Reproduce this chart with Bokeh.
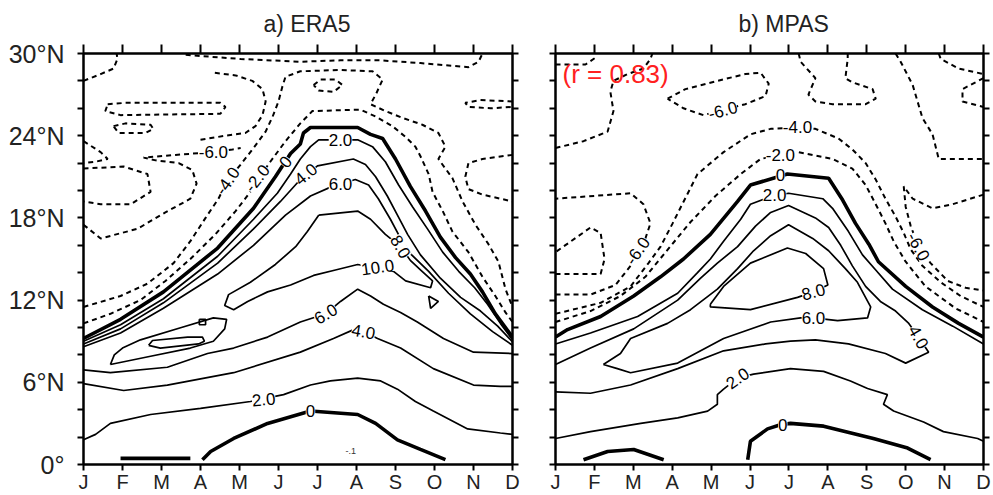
from bokeh.plotting import figure
from bokeh.models import Range1d, LinearAxis, FixedTicker, Label, ColumnDataSource, CustomJSTickFormatter, Title
from bokeh.layouts import row
from bokeh.embed import file_html
from bokeh.resources import INLINE
from bokeh.core.properties import value

FONT = "Liberation Sans"

# ---------------- axes data ----------------
month_ticks = list(range(12))
month_labels = ["J", "F", "M", "A", "M", "J", "J", "A", "S", "O", "N", "D"]
lat_major = [0, 6, 12, 18, 24, 30]
lat_labels = ["0°", "6°N", "12°N", "18°N", "24°N", "30°N"]
lat_minor = [2, 4, 8, 10, 14, 16, 20, 22, 26, 28]

# ---------------- a) ERA5 contour lines (month, latitude) ----------------
e_z0_m = [0, 0.95, 2.05, 3.44, 4.36, 4.92, 5.31, 5.56, 5.64, 5.82, 7.03, 7.36, 7.67, 8.0, 8.38, 8.77, 9.15, 9.54, 9.92, 10.23, 10.56, 11.0]
e_z0_lat = [9.2, 10.6, 12.6, 15.8, 18.7, 21.0, 22.7, 23.4, 24.2, 24.6, 24.6, 24.1, 23.8, 22.3, 20.3, 18.5, 16.6, 15.1, 13.9, 12.6, 11.0, 9.3]
e_z0b1_m = [0.95, 2.74]
e_z0b1_lat = [0.45, 0.45]
e_z0b2_m = [3.05, 3.26, 3.85, 4.72, 5.82, 7.03, 7.49, 8.05, 8.64, 9.28]
e_z0b2_lat = [0.35, 0.95, 1.9, 3.0, 3.9, 3.65, 3.0, 1.8, 1.1, 0.35]
e_p2u_m = [0, 0.95, 2.05, 3.44, 4.36, 4.97, 5.31, 5.56, 5.82, 6.03, 7.03, 7.41, 7.74, 8.08, 8.44, 8.82, 9.21, 9.62, 10.03, 10.36, 10.69, 11.0]
e_p2u_lat = [9.0, 10.2, 12.1, 15.2, 17.9, 19.8, 21.2, 22.3, 23.2, 23.7, 23.7, 23.2, 22.1, 20.4, 18.8, 17.2, 15.5, 14.1, 12.9, 11.7, 10.3, 9.1]
e_p4u_m = [0, 0.95, 2.05, 3.44, 4.36, 5.05, 5.56, 6.0, 6.92, 7.23, 7.49, 7.79, 8.05, 8.31, 8.64, 9.15, 9.67, 10.18, 10.62, 11.0]
e_p4u_lat = [8.8, 9.9, 11.8, 14.7, 17.2, 19.2, 20.8, 21.8, 22.3, 21.9, 21.0, 19.6, 18.2, 16.8, 15.3, 13.6, 12.2, 11.2, 10.1, 8.95]
e_p6u_m = [0, 0.95, 2.05, 3.44, 4.36, 5.18, 5.82, 6.38, 6.97, 7.31, 7.56, 7.87, 8.13, 8.38, 8.85, 9.36, 9.92, 10.49, 11.0]
e_p6u_lat = [8.6, 9.6, 11.4, 13.9, 16.0, 18.2, 19.6, 20.3, 20.8, 20.4, 19.4, 17.9, 16.5, 15.4, 14.1, 12.5, 11.0, 9.7, 8.7]
e_p10_m = [6.03, 7.03, 7.36, 7.74, 8.13, 8.38, 8.64, 8.95, 8.90, 8.26, 7.95, 7.03, 6.46, 5.90, 5.31, 4.72, 4.21, 3.85, 3.62, 3.72, 4.28, 4.92, 5.44, 5.74, 6.03]
e_p10_lat = [18.2, 18.5, 17.9, 16.8, 15.9, 14.9, 14.2, 13.4, 12.9, 13.4, 14.1, 14.6, 14.2, 13.8, 13.1, 12.6, 11.9, 11.3, 11.6, 12.4, 13.3, 14.6, 15.9, 17.0, 18.2]
e_p6l_m = [0, 0.69, 2.15, 3.18, 3.85, 4.72, 5.56, 6.21, 6.59, 7.03, 7.36, 7.69, 8.13, 8.56, 9.23, 10.0, 11.0]
e_p6l_lat = [6.9, 6.7, 7.1, 8.1, 8.5, 9.3, 10.4, 11.0, 11.9, 12.8, 12.3, 11.7, 11.1, 10.4, 9.2, 8.2, 8.1]
e_p4l_m = [0, 1.03, 2.15, 3.85, 5.56, 6.41, 6.97, 7.18, 7.54, 8.13, 8.97, 10.0, 10.69, 11.0]
e_p4l_lat = [5.9, 5.4, 5.8, 6.7, 8.2, 9.2, 9.9, 9.7, 9.2, 8.5, 7.0, 5.8, 5.7, 5.7]
e_p8w_m = [0.69, 0.79, 1.0, 1.46, 2.51, 3.33, 3.67, 3.62, 3.33, 2.74, 1.72, 0.69]
e_p8w_lat = [7.3, 8.0, 8.5, 9.1, 10.0, 10.7, 10.6, 9.9, 9.0, 8.5, 7.9, 7.3]
e_isl_m = [1.67, 1.77, 2.67, 3.05, 3.10, 2.95, 1.97, 1.67]
e_isl_lat = [8.7, 9.05, 9.3, 9.3, 9.0, 8.8, 8.5, 8.7]
e_tri_m = [8.85, 9.10, 8.90, 8.85]
e_tri_lat = [12.3, 11.9, 11.4, 12.3]
e_sq_m = [2.97, 3.13, 3.13, 2.97, 2.97]
e_sq_lat = [10.6, 10.6, 10.2, 10.2, 10.6]
e_p2l_m = [0, 0.31, 0.69, 1.72, 3.0, 4.28, 5.13, 5.82, 6.33, 7.03, 7.62, 8.05, 8.51, 8.97, 9.85, 10.69, 11.0]
e_p2l_lat = [1.8, 2.2, 3.0, 3.65, 4.1, 4.6, 5.1, 5.8, 6.1, 6.3, 6.1, 5.5, 4.6, 3.9, 2.6, 2.3, 2.2]
# negative (dashed)
e_n2_m = [0, 0.69, 1.46, 2.10, 2.74, 3.38, 3.90, 4.28, 4.49, 4.79, 5.18, 5.56, 5.87, 7.10, 7.49, 7.92, 8.26, 8.51, 8.64, 8.85, 8.95, 9.21, 9.46, 9.87, 10.23, 10.56, 10.82, 11.0]
e_n2_lat = [10.3, 11.0, 12.0, 13.4, 15.0, 16.8, 18.5, 19.9, 20.9, 22.1, 23.6, 24.9, 25.8, 25.9, 25.4, 24.7, 23.9, 23.2, 22.5, 21.2, 19.9, 18.5, 17.0, 15.5, 13.7, 12.3, 11.1, 10.4]
e_n4_m = [0, 0.95, 1.64, 2.31, 2.74, 3.13, 3.46, 3.69, 4.03, 4.36, 4.67, 4.85, 5.0, 5.10, 5.18, 5.56, 6.59, 7.41, 7.67, 7.51, 7.36, 7.74, 8.18, 8.69, 9.10, 9.28, 9.10, 9.46, 9.72, 10.05, 10.38, 10.64, 10.82, 11.0]
e_n4_lat = [11.5, 12.3, 13.2, 14.7, 16.3, 18.0, 19.4, 20.7, 21.9, 23.1, 24.3, 25.4, 26.5, 27.6, 28.3, 28.7, 28.8, 28.7, 28.1, 27.1, 26.3, 25.8, 25.3, 24.8, 24.2, 23.2, 22.3, 20.9, 19.2, 17.5, 16.1, 14.8, 12.8, 11.5]
e_top_m = [2.62, 4.03, 5.56, 6.59, 7.62, 8.64, 9.87, 10.13, 10.23]
e_top_lat = [29.9, 29.6, 29.4, 29.5, 29.5, 29.3, 29.0, 29.4, 30.0]
e_sl_m = [5.90, 6.08, 6.46, 6.64, 6.41, 6.03, 5.90]
e_sl_lat = [27.7, 28.1, 28.1, 27.7, 27.2, 27.3, 27.7]
e_rl_m = [11.0, 10.18, 9.79, 9.87, 10.44, 11.0]
e_rl_lat = [26.5, 26.6, 26.4, 26.1, 26.0, 26.1]
e_ru_m = [11.0, 10.23, 9.87, 9.79, 9.87, 10.23, 11.0]
e_ru_lat = [22.6, 22.3, 22.0, 21.0, 20.1, 19.7, 19.2]
e_a_m = [0, 0.44, 0.77, 0.87, 0.85]
e_a_lat = [28.0, 28.5, 28.9, 29.6, 30.0]
e_b_m = [0.62, 1.08, 3.51, 3.64, 3.51, 0.95, 0.56, 0.62]
e_b_lat = [26.3, 26.4, 26.4, 26.1, 25.6, 25.5, 25.8, 26.3]
e_c_m = [0.77, 1.08, 1.72, 1.79, 1.59, 0.90, 0.77]
e_c_lat = [24.7, 24.9, 24.8, 24.5, 24.2, 24.2, 24.7]
e_e_m = [3.0, 3.64, 4.15, 4.41, 4.59, 4.67, 4.59, 4.33, 3.90, 3.33]
e_e_lat = [23.7, 24.0, 24.2, 24.7, 25.5, 26.5, 27.4, 28.0, 28.4, 28.6]
e_hd_m = [0, 0.44, 1.38, 2.10, 2.74, 2.90, 2.79, 2.44, 1.85, 1.54, 2.36, 3.33, 3.82, 4.03]
e_hd_lat = [17.5, 16.5, 17.2, 18.4, 19.4, 20.5, 21.5, 22.0, 22.2, 22.4, 22.6, 22.8, 23.0, 23.1]
e_f_m = [0, 0.44, 0.62, 0.31, 0]
e_f_lat = [23.6, 22.8, 22.3, 22.1, 22.0]
e_g_m = [0, 1.03, 1.64, 1.72, 1.21, 0.44, 0]
e_g_lat = [21.6, 21.75, 21.2, 19.9, 19.0, 19.0, 19.2]

era5_label_text = ["0", "-2.0", "-4.0", "-6.0", "2.0", "4.0", "6.0", "8.0", "10.0", "6.0", "4.0", "2.0", "0"]
era5_label_m = [5.18, 4.45, 3.69, 3.33, 6.59, 5.70, 6.59, 8.13, 7.54, 6.21, 7.18, 4.62, 5.82]
era5_label_lat = [22.1, 20.9, 20.7, 22.8, 23.7, 21.2, 20.5, 15.9, 14.4, 11.0, 9.7, 4.75, 3.9]
era5_label_angle = [52, 52, 55, 0, 0, 40, 0, -60, 8, 30, -10, 5, 0]
era5_tiny_text = ["-.1"]
era5_tiny_m = [6.85]
era5_tiny_lat = [1.0]

# ---------------- b) MPAS contour lines (month, latitude) ----------------
m_z0_m = [0, 0.31, 1.16, 2.01, 2.70, 3.29, 3.98, 4.68, 5.01, 5.96, 7.02, 7.38, 7.71, 8.05, 8.30, 9.0, 9.69, 10.36, 11.0]
m_z0_lat = [9.3, 9.85, 10.8, 12.3, 13.7, 15.0, 16.8, 19.2, 20.4, 21.2, 20.9, 19.3, 17.6, 16.1, 14.8, 13.0, 11.5, 10.3, 9.3]
m_z0b1_m = [0.72, 1.34, 2.01, 2.78]
m_z0b1_lat = [0.35, 0.95, 1.1, 0.35]
m_z0b2_m = [4.94, 5.01, 5.45, 5.78, 6.04, 6.89, 8.17, 9.05, 9.64]
m_z0b2_lat = [0.35, 1.7, 2.6, 2.9, 3.0, 2.8, 1.9, 1.2, 0.35]
m_p2u_m = [0, 0.90, 2.11, 3.14, 3.65, 3.98, 4.32, 4.76, 5.01, 5.58, 5.99, 6.87, 7.12, 7.53, 7.89, 8.23, 8.66, 9.43, 10.21, 11.0]
m_p2u_lat = [8.8, 9.6, 10.8, 12.5, 14.0, 15.0, 16.3, 17.9, 19.0, 19.6, 19.8, 19.4, 18.7, 17.0, 15.3, 14.2, 12.8, 11.3, 10.1, 8.8]
m_p4_m = [0, 0.90, 2.01, 3.14, 3.73, 4.16, 4.68, 5.14, 5.53, 5.99, 6.68, 7.02, 7.33, 7.63, 7.97, 8.35, 8.74, 9.08, 9.33, 9.59, 9.0, 8.48, 7.53, 6.68, 6.04, 5.40, 4.32, 3.14, 1.93, 0.90, 0]
m_p4_lat = [7.3, 8.5, 9.9, 12.0, 13.6, 14.7, 15.9, 17.4, 18.4, 18.9, 18.0, 17.3, 16.0, 14.5, 13.0, 11.9, 11.2, 10.3, 9.3, 8.2, 7.4, 8.1, 8.8, 9.1, 9.0, 8.8, 8.3, 7.0, 5.8, 5.2, 5.3]
m_p6_m = [1.23, 1.67, 1.93, 2.88, 3.47, 4.16, 4.68, 5.09, 5.53, 5.99, 6.61, 7.02, 7.45, 7.76, 8.10, 8.02, 7.25, 6.63, 6.30, 5.53, 4.32, 3.14, 1.93, 1.59, 1.23]
m_p6_lat = [7.3, 8.1, 9.2, 10.3, 11.3, 12.8, 14.3, 15.6, 16.7, 17.5, 16.5, 15.6, 14.3, 13.3, 11.5, 10.7, 10.5, 10.7, 10.7, 10.4, 9.2, 7.4, 6.7, 7.0, 7.3]
m_p8_m = [3.98, 4.32, 5.01, 5.96, 6.43, 6.89, 7.00, 6.63, 6.22, 5.01, 3.98, 3.98]
m_p8_lat = [11.7, 13.0, 14.7, 15.8, 15.4, 14.3, 13.1, 12.6, 12.2, 11.3, 11.5, 11.7]
m_p2l_m = [0, 0.90, 2.19, 3.14, 3.91, 4.16, 4.16, 4.32, 4.68, 5.09, 6.04, 6.89, 7.58, 8.02, 8.53, 8.43, 8.69, 9.46, 9.97, 10.85, 11.0]
m_p2l_lat = [1.9, 2.4, 3.0, 3.4, 3.9, 4.4, 5.1, 5.5, 6.3, 6.6, 7.0, 6.8, 6.1, 5.55, 5.1, 4.4, 3.9, 3.1, 2.4, 1.9, 1.7]
# negative (dashed)
m_n2_m = [0, 0.90, 1.67, 2.31, 2.83, 3.47, 4.11, 4.76, 5.27, 5.78, 6.24, 7.12, 7.63, 7.97, 8.23, 8.48, 8.69, 9.0, 9.51, 10.28, 11.0]
m_n2_lat = [10.4, 11.2, 12.3, 13.7, 15.5, 17.7, 19.6, 21.2, 22.3, 22.6, 22.8, 22.3, 21.6, 20.4, 19.0, 17.6, 16.3, 14.8, 13.0, 11.4, 10.4]
m_n4_m = [0, 1.16, 1.93, 2.39, 2.70, 3.01, 3.65, 4.32, 5.01, 5.53, 6.22, 6.68, 7.27, 7.63, 7.97, 8.23, 8.48, 8.74, 8.95, 9.13, 9.43, 9.90, 10.41, 11.0]
m_n4_lat = [11.0, 11.8, 13.0, 14.7, 15.9, 17.6, 21.2, 22.8, 24.1, 24.5, 24.6, 24.5, 23.8, 23.0, 22.0, 20.8, 19.4, 18.1, 16.9, 15.7, 14.5, 13.3, 12.3, 11.5]
m_u1_m = [0, 0.90, 1.54, 1.93, 2.11, 2.31, 2.44, 2.26, 1.93, 0]
m_u1_lat = [12.4, 12.4, 13.1, 14.5, 15.5, 16.5, 17.6, 19.0, 19.8, 19.4]
m_u2_m = [0, 1.16, 1.26, 1.16, 0.90, 0]
m_u2_lat = [13.9, 13.9, 15.0, 16.9, 17.3, 15.5]
m_tl_m = [0, 0.72, 1.34, 1.49, 1.41, 1.49, 1.85, 2.26, 2.44, 2.49]
m_tl_lat = [23.1, 23.6, 24.3, 25.8, 27.2, 28.0, 28.5, 28.9, 29.6, 30.0]
m_tc_m = [0, 0.39, 0.77, 1.03]
m_tc_lat = [29.2, 29.2, 29.2, 29.7]
m_tloop_m = [2.88, 3.34, 4.16, 4.88, 5.27, 5.48, 5.40, 4.88, 3.80, 3.29, 2.88]
m_tloop_lat = [26.7, 27.4, 28.0, 28.5, 28.6, 27.8, 26.9, 26.3, 25.5, 26.0, 26.7]
m_tu_m = [6.25, 6.30, 6.68, 6.50, 6.68, 7.12, 7.97, 8.23, 8.15, 7.63, 7.45, 7.51, 7.51]
m_tu_lat = [30.0, 29.4, 28.2, 27.0, 26.5, 26.3, 26.3, 26.7, 27.4, 27.9, 28.2, 29.6, 30.0]
m_tr_m = [8.74, 8.87, 9.18, 9.43, 9.69, 9.85, 10.36, 11.0]
m_tr_lat = [30.0, 29.4, 27.7, 25.3, 24.1, 22.3, 22.3, 22.3]
m_trc_m = [9.85, 9.90, 10.36, 11.0]
m_trc_lat = [30.0, 29.6, 28.9, 28.5]
m_ru_m = [11.0, 10.46, 10.46, 11.0]
m_ru_lat = [28.2, 27.4, 26.5, 26.1]
m_r6_m = [11.0, 10.21, 9.69, 9.18, 8.95, 9.0, 9.13, 9.33, 9.64, 10.08, 10.54, 11.0]
m_r6_lat = [19.7, 19.0, 18.7, 19.4, 20.3, 18.8, 17.4, 15.9, 14.7, 13.4, 12.9, 12.7]

mpas_label_text = ["0", "2.0", "-2.0", "-4.0", "-6.0", "-6.0", "-6.0", "8.0", "6.0", "4.0", "2.0", "0"]
mpas_label_m = [5.78, 5.63, 5.78, 6.22, 4.30, 2.11, 9.33, 6.63, 6.63, 9.33, 4.68, 5.84]
mpas_label_lat = [21.1, 19.65, 22.6, 24.6, 25.85, 15.6, 15.9, 12.6, 10.7, 9.3, 6.3, 2.9]
mpas_label_angle = [0, 0, 0, 0, 15, 55, -62, 15, 0, -60, 35, 0]

# ---------------- build line tables ----------------
era5_lines = [
    (e_z0_m, e_z0_lat, "zero"), (e_z0b1_m, e_z0b1_lat, "zero"), (e_z0b2_m, e_z0b2_lat, "zero"),
    (e_p2u_m, e_p2u_lat, "pos"), (e_p4u_m, e_p4u_lat, "pos"), (e_p6u_m, e_p6u_lat, "pos"),
    (e_p10_m, e_p10_lat, "pos"), (e_p6l_m, e_p6l_lat, "pos"), (e_p4l_m, e_p4l_lat, "pos"),
    (e_p8w_m, e_p8w_lat, "pos"), (e_isl_m, e_isl_lat, "pos"), (e_tri_m, e_tri_lat, "pos"),
    (e_sq_m, e_sq_lat, "pos"), (e_p2l_m, e_p2l_lat, "pos"),
    (e_n2_m, e_n2_lat, "neg"), (e_n4_m, e_n4_lat, "neg"), (e_top_m, e_top_lat, "neg"),
    (e_sl_m, e_sl_lat, "neg"), (e_rl_m, e_rl_lat, "neg"), (e_ru_m, e_ru_lat, "neg"),
    (e_a_m, e_a_lat, "neg"), (e_b_m, e_b_lat, "neg"), (e_c_m, e_c_lat, "neg"),
    (e_e_m, e_e_lat, "neg"), (e_hd_m, e_hd_lat, "neg"), (e_f_m, e_f_lat, "neg"),
    (e_g_m, e_g_lat, "neg"),
]
mpas_lines = [
    (m_z0_m, m_z0_lat, "zero"), (m_z0b1_m, m_z0b1_lat, "zero"), (m_z0b2_m, m_z0b2_lat, "zero"),
    (m_p2u_m, m_p2u_lat, "pos"), (m_p4_m, m_p4_lat, "pos"), (m_p6_m, m_p6_lat, "pos"),
    (m_p8_m, m_p8_lat, "pos"), (m_p2l_m, m_p2l_lat, "pos"),
    (m_n2_m, m_n2_lat, "neg"), (m_n4_m, m_n4_lat, "neg"), (m_u1_m, m_u1_lat, "neg"),
    (m_u2_m, m_u2_lat, "neg"), (m_tl_m, m_tl_lat, "neg"), (m_tc_m, m_tc_lat, "neg"),
    (m_tloop_m, m_tloop_lat, "neg"), (m_tu_m, m_tu_lat, "neg"), (m_tr_m, m_tr_lat, "neg"),
    (m_trc_m, m_trc_lat, "neg"), (m_ru_m, m_ru_lat, "neg"), (m_r6_m, m_r6_lat, "neg"),
]

STYLE = {
    "zero": dict(line_width=3.6, line_dash="solid"),
    "pos": dict(line_width=1.7, line_dash="solid"),
    "neg": dict(line_width=2.0, line_dash="5 4"),
}


def style_axis(ax, ticker, tick_out, labels=None, font_size="16px", standoff=0):
    ax.ticker = ticker
    ax.axis_line_color = "black"
    ax.axis_line_width = 2
    ax.major_tick_line_color = "black"
    ax.major_tick_line_width = 2
    ax.minor_tick_line_color = "black"
    ax.minor_tick_line_width = 2
    ax.major_tick_in = 0
    ax.major_tick_out = tick_out
    ax.minor_tick_in = 0
    ax.minor_tick_out = tick_out
    ax.major_label_standoff = standoff
    ax.major_label_text_font = FONT
    ax.major_label_text_color = "#222222"
    ax.major_label_text_font_size = font_size
    if labels is not None:
        ax.major_label_overrides = labels
    else:
        ax.formatter = CustomJSTickFormatter(code="return ''")


def build_panel(title, title_offset, lines, lab_text, lab_m, lab_lat, lab_angle, show_y, bl, br, fw, right_tick):
    p = figure(frame_width=fw, frame_height=411,
               min_border_left=bl, min_border_right=br, min_border_top=52, min_border_bottom=32,
               x_range=Range1d(0, 11), y_range=Range1d(0, 30),
               output_backend="svg", toolbar_location=None)
    p.grid.visible = False
    p.outline_line_color = "black"
    p.outline_line_width = 2
    p.background_fill_color = "white"
    p.border_fill_color = "white"

    p.title = Title(text=title, align="left", offset=title_offset, standoff=16,
                    text_font=FONT, text_font_size="23px", text_font_style="normal",
                    text_color="#222222")

    xt = FixedTicker(ticks=month_ticks)
    yt = FixedTicker(ticks=lat_major, minor_ticks=lat_minor)
    style_axis(p.xaxis[0], xt, 6, {t: l for t, l in zip(month_ticks, month_labels)}, "20px", 0)
    if show_y:
        style_axis(p.yaxis[0], yt, 6, {t: l for t, l in zip(lat_major, lat_labels)}, "25px", 13)
    else:
        style_axis(p.yaxis[0], yt, 6)
    top = LinearAxis()
    p.add_layout(top, "above")
    style_axis(top, FixedTicker(ticks=month_ticks), 9)
    rgt = LinearAxis()
    p.add_layout(rgt, "right")
    style_axis(rgt, FixedTicker(ticks=lat_major, minor_ticks=lat_minor), right_tick)

    for ms, lats, kind in lines:
        p.line(ms, lats, line_color="black", **STYLE[kind])

    src = ColumnDataSource(dict(x=lab_m, y=lab_lat, text=lab_text, angle=lab_angle))
    p.text(x="x", y="y", text="text", angle="angle", angle_units="deg", source=src,
           text_font=value(FONT), text_font_size="17px", text_color="black",
           text_align="center", text_baseline="middle",
           background_fill_color="white")
    return p


p1 = build_panel("a) ERA5", 180, era5_lines, era5_label_text, era5_label_m, era5_label_lat, era5_label_angle,
                 True, 83, 10, 429, 6)
p1.text(x=era5_tiny_m, y=era5_tiny_lat, text=era5_tiny_text, text_font=value(FONT),
        text_font_size="9px", text_color="#333333", text_align="center", text_baseline="middle")
p2 = build_panel("b) MPAS", 183, mpas_lines, mpas_label_text, mpas_label_m, mpas_label_lat, mpas_label_angle,
                 False, 33, 10, 428, 6)
p2.add_layout(Label(x=0.18, y=28.5, text="(r = 0.83)", text_font=FONT, text_font_size="26px",
                    text_color="#ff2020", text_align="left", text_baseline="middle"))

layout = row(p1, p2)
open("out.html", "w").write(file_html(layout, INLINE))
